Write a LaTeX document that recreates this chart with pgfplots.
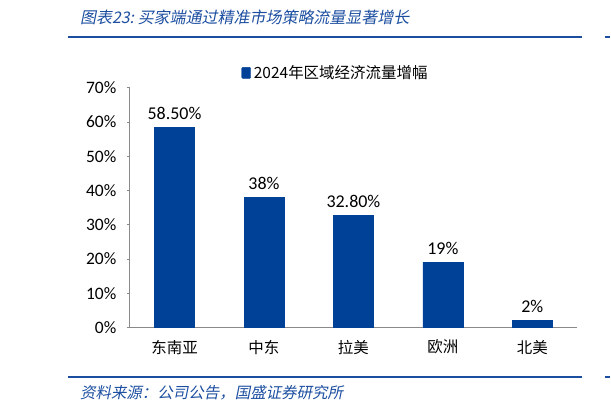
\documentclass[border=0pt]{standalone}
\usepackage{fontspec}
\setmainfont{Carlito}
\newfontfamily\cjk{Noto Sans CJK SC}
\newfontfamily\cjkit[FakeSlant=0.2]{Noto Sans CJK SC}
\usepackage{pgfplots}
\pgfplotsset{compat=1.18}

\definecolor{barblue}{RGB}{0,65,152}
\definecolor{ruleblue}{RGB}{28,78,160}
\definecolor{axgray}{RGB}{137,137,137}

\begin{document}
\begin{tikzpicture}
% page frame
\path (0bp,0bp) rectangle (611bp,-410bp);
% header and footer
\node[anchor=west, text=ruleblue, font=\cjkit\fontsize{16bp}{18bp}\selectfont, inner sep=0pt]
  at (80bp,-17bp) {图表23:\ 买家端通过精准市场策略流量显著增长};
\draw[ruleblue, line width=2bp] (68bp,-37bp) -- (583bp,-37bp);
\draw[ruleblue, line width=2bp] (606bp,-37bp) -- (611bp,-37bp);
\draw[ruleblue, line width=2bp] (68bp,-378bp) -- (583bp,-378bp);
\draw[ruleblue, line width=2bp] (606bp,-378bp) -- (611bp,-378bp);
\node[anchor=west, text=ruleblue, font=\cjkit\fontsize{15.5bp}{17bp}\selectfont, inner sep=0pt]
  at (80bp,-393bp) {资料来源：公司公告，国盛证券研究所};

\begin{axis}[
  at={(130bp,-328bp)}, anchor=south west,
  scale only axis,
  width=448bp, height=240bp,
  ybar, bar width=40bp,
  xmin=-0.5, xmax=4.5,
  ymin=0, ymax=70,
  axis x line*=bottom, axis y line*=left,
  axis line style={axgray, line width=0.8bp, -},
  xtick={0,1,2,3,4},
  xticklabels={东南亚,中东,拉美,欧洲,北美},
  x tick label style={font=\cjk\fontsize{15.5bp}{17bp}\selectfont, yshift=-6bp},
  major x tick style={draw=none},
  extra x ticks={0.5,1.5,2.5,3.5,4.5},
  extra x tick labels={},
  extra x tick style={major tick length=5bp, tick align=inside,
    major tick style={axgray, line width=0.8bp}},
  ytick={0,10,...,70},
  yticklabel={\pgfmathprintnumber{\tick}\%},
  y tick label style={font=\fontsize{17.5bp}{19bp}\selectfont, xshift=-7bp},
  /pgf/number format/assume math mode=true,
  ytick style={axgray, line width=0.8bp},
  tick align=outside, major tick length=3bp,
  nodes near coords={\pgfplotspointmeta\%},
  point meta=explicit symbolic,
  every node near coord/.append style={font=\fontsize{18bp}{20bp}\selectfont, yshift=4bp},
  legend style={at={(0.46,1.0625)}, anchor=center, draw=none, fill=none,
    font=\cjk\fontsize{15.5bp}{17bp}\selectfont, inner sep=0pt,
    /tikz/every odd column/.append style={column sep=1bp}},
  legend image code/.code={\fill[barblue, rounded corners=1bp] (0bp,-5.5bp) rectangle (9bp,5.5bp);},
  clip=false,
]
\addplot[fill=barblue, draw=barblue] coordinates {
  (0,58.5) [58.50] (1,38) [38] (2,32.8) [32.80] (3,19) [19] (4,2) [2]};
\addlegendentry{2024年区域经济流量增幅}
\end{axis}
\end{tikzpicture}
\end{document}
